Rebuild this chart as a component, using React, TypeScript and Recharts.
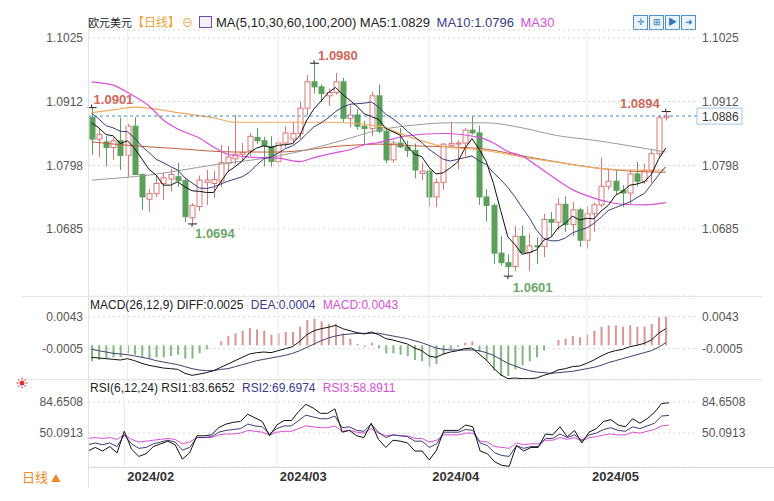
import React from 'react';
import {
  ComposedChart, Bar, Line, XAxis, YAxis, CartesianGrid, ReferenceLine, ReferenceDot, Cell
} from 'recharts';

// trading days shown on the chart
const dates = [
  '2024-01-25', '2024-01-26', '2024-01-29', '2024-01-30', '2024-01-31',
  '2024-02-01', '2024-02-02', '2024-02-05', '2024-02-06', '2024-02-07', '2024-02-08', '2024-02-09',
  '2024-02-12', '2024-02-13', '2024-02-14', '2024-02-15', '2024-02-16', '2024-02-19', '2024-02-20',
  '2024-02-21', '2024-02-22', '2024-02-23', '2024-02-26', '2024-02-27', '2024-02-28', '2024-02-29',
  '2024-03-01', '2024-03-04', '2024-03-05', '2024-03-06', '2024-03-07', '2024-03-08', '2024-03-11',
  '2024-03-12', '2024-03-13', '2024-03-14', '2024-03-15', '2024-03-18', '2024-03-19', '2024-03-20',
  '2024-03-21', '2024-03-22', '2024-03-25', '2024-03-26', '2024-03-27', '2024-03-28', '2024-03-29',
  '2024-04-01', '2024-04-02', '2024-04-03', '2024-04-04', '2024-04-05', '2024-04-08', '2024-04-09',
  '2024-04-10', '2024-04-11', '2024-04-12', '2024-04-15', '2024-04-16', '2024-04-17', '2024-04-18',
  '2024-04-19', '2024-04-22', '2024-04-23', '2024-04-24', '2024-04-25', '2024-04-26', '2024-04-29',
  '2024-04-30', '2024-05-01', '2024-05-02', '2024-05-03', '2024-05-06', '2024-05-07', '2024-05-08',
  '2024-05-09', '2024-05-10', '2024-05-13', '2024-05-14', '2024-05-15', '2024-05-16',
];

const opens = [
  1.0884, 1.0845, 1.0840, 1.0830, 1.0842, 1.0816, 1.0868, 1.0782, 1.0738, 1.0748,
  1.0766, 1.0774, 1.0778, 1.0771, 1.0705, 1.0725, 1.0768, 1.0766, 1.0770, 1.0802,
  1.0810, 1.0818, 1.0824, 1.0848, 1.0842, 1.0832, 1.0805, 1.0838, 1.0845, 1.0855,
  1.0900, 1.0947, 1.0938, 1.0922, 1.0928, 1.0947, 1.0882, 1.0888, 1.0868, 1.0864,
  1.0922, 1.0859, 1.0808, 1.0838, 1.0831, 1.0825, 1.0784, 1.0788, 1.0742, 1.0768,
  1.0834, 1.0836, 1.0838, 1.0861, 1.0856, 1.0742, 1.0727, 1.0642, 1.0625, 1.0618,
  1.0672, 1.0643, 1.0655, 1.0654, 1.0702, 1.0697, 1.0729, 1.0693, 1.0719, 1.0665,
  1.0712, 1.0728, 1.0761, 1.0770, 1.0754, 1.0749, 1.0783, 1.0770, 1.0789, 1.0819,
  1.0883,
];
const highs = [
  1.0901, 1.0865, 1.0850, 1.0848, 1.0883, 1.0872, 1.0884, 1.0784, 1.0756, 1.0781,
  1.0785, 1.0792, 1.0803, 1.0777, 1.0731, 1.0780, 1.0790, 1.0788, 1.0835, 1.0833,
  1.0888, 1.0838, 1.0856, 1.0865, 1.0849, 1.0850, 1.0844, 1.0868, 1.0876, 1.0912,
  1.0959, 1.0980, 1.0942, 1.0935, 1.0963, 1.0954, 1.0905, 1.0898, 1.0877, 1.0929,
  1.0942, 1.0866, 1.0843, 1.0865, 1.0842, 1.0837, 1.0803, 1.0793, 1.0775, 1.0838,
  1.0876, 1.0843, 1.0865, 1.0885, 1.0869, 1.0756, 1.0731, 1.0672, 1.0640, 1.0690,
  1.0691, 1.0677, 1.0670, 1.0712, 1.0715, 1.0740, 1.0743, 1.0733, 1.0723, 1.0725,
  1.0732, 1.0812, 1.0790, 1.0789, 1.0763, 1.0791, 1.0804, 1.0801, 1.0826, 1.0887,
  1.0894,
];
const lows = [
  1.0817, 1.0813, 1.0796, 1.0808, 1.0790, 1.0778, 1.0781, 1.0719, 1.0716, 1.0742,
  1.0737, 1.0752, 1.0760, 1.0697, 1.0694, 1.0717, 1.0728, 1.0740, 1.0760, 1.0788,
  1.0800, 1.0805, 1.0815, 1.0836, 1.0796, 1.0796, 1.0795, 1.0830, 1.0836, 1.0845,
  1.0887, 1.0926, 1.0911, 1.0904, 1.0924, 1.0875, 1.0866, 1.0862, 1.0836, 1.0850,
  1.0855, 1.0802, 1.0803, 1.0829, 1.0813, 1.0775, 1.0772, 1.0725, 1.0724, 1.0755,
  1.0830, 1.0791, 1.0815, 1.0853, 1.0728, 1.0698, 1.0623, 1.0620, 1.0601, 1.0610,
  1.0642, 1.0610, 1.0623, 1.0635, 1.0673, 1.0684, 1.0680, 1.0672, 1.0653, 1.0650,
  1.0680, 1.0724, 1.0755, 1.0747, 1.0724, 1.0729, 1.0761, 1.0765, 1.0767, 1.0811,
  1.0878,
];
const closes = [
  1.0845, 1.0853, 1.0830, 1.0842, 1.0816, 1.0868, 1.0782, 1.0742, 1.0748, 1.0766,
  1.0776, 1.0782, 1.0771, 1.0707, 1.0727, 1.0772, 1.0772, 1.0773, 1.0803, 1.0813,
  1.0818, 1.0821, 1.0850, 1.0842, 1.0833, 1.0805, 1.0838, 1.0856, 1.0855, 1.0900,
  1.0947, 1.0938, 1.0926, 1.0928, 1.0947, 1.0882, 1.0888, 1.0868, 1.0864, 1.0922,
  1.0859, 1.0808, 1.0838, 1.0831, 1.0825, 1.0790, 1.0788, 1.0742, 1.0768, 1.0836,
  1.0837, 1.0838, 1.0861, 1.0856, 1.0742, 1.0727, 1.0642, 1.0625, 1.0618, 1.0672,
  1.0643, 1.0655, 1.0654, 1.0702, 1.0697, 1.0729, 1.0693, 1.0719, 1.0665, 1.0712,
  1.0728, 1.0761, 1.0770, 1.0754, 1.0749, 1.0783, 1.0770, 1.0789, 1.0819, 1.0883,
  1.0886,
];

const ma5 = [
  1.0874, 1.0865, 1.0853, 1.0851, 1.0837, 1.0842, 1.0828, 1.0810, 1.0791, 1.0781,
  1.0763, 1.0763, 1.0769, 1.0760, 1.0753, 1.0752, 1.0750, 1.0750, 1.0769, 1.0787,
  1.0796, 1.0806, 1.0821, 1.0829, 1.0833, 1.0830, 1.0834, 1.0835, 1.0837, 1.0851,
  1.0879, 1.0899, 1.0913, 1.0928, 1.0937, 1.0924, 1.0914, 1.0903, 1.0890, 1.0885,
  1.0880, 1.0864, 1.0858, 1.0852, 1.0832, 1.0818, 1.0814, 1.0795, 1.0783, 1.0785,
  1.0794, 1.0804, 1.0828, 1.0846, 1.0827, 1.0805, 1.0766, 1.0718, 1.0671, 1.0657,
  1.0640, 1.0643, 1.0648, 1.0665, 1.0670, 1.0687, 1.0695, 1.0708, 1.0701, 1.0704,
  1.0703, 1.0717, 1.0727, 1.0745, 1.0752, 1.0763, 1.0765, 1.0769, 1.0782, 1.0809,
  1.0829,
];
const ma10 = [
  1.0891, 1.0881, 1.0869, 1.0865, 1.0859, 1.0858, 1.0847, 1.0832, 1.0821, 1.0809,
  1.0803, 1.0796, 1.0790, 1.0776, 1.0767, 1.0758, 1.0757, 1.0760, 1.0765, 1.0770,
  1.0774, 1.0778, 1.0786, 1.0799, 1.0810, 1.0813, 1.0820, 1.0828, 1.0833, 1.0842,
  1.0855, 1.0867, 1.0874, 1.0883, 1.0894, 1.0902, 1.0907, 1.0908, 1.0909, 1.0911,
  1.0902, 1.0889, 1.0881, 1.0871, 1.0859, 1.0849, 1.0839, 1.0827, 1.0818, 1.0809,
  1.0806, 1.0809, 1.0812, 1.0815, 1.0806, 1.0800, 1.0785, 1.0773, 1.0759, 1.0742,
  1.0723, 1.0705, 1.0683, 1.0668, 1.0664, 1.0664, 1.0669, 1.0678, 1.0683, 1.0687,
  1.0695, 1.0706, 1.0718, 1.0723, 1.0728, 1.0733, 1.0741, 1.0748, 1.0764, 1.0781,
  1.0796,
];
// slow averages read at some candles: [candle index, value]
const ma30Pts = [
  [0, 1.0947], [3, 1.0941], [5, 1.0928], [8, 1.0904], [10, 1.0879], [12, 1.0863], [15, 1.0847],
  [17, 1.0831], [19, 1.0818], [22, 1.0813], [26, 1.0811], [29, 1.0805], [31, 1.0812], [34, 1.0821],
  [36, 1.0826], [38, 1.0835], [40, 1.0839], [44, 1.0851], [49, 1.0855], [54, 1.0848], [56, 1.0838],
  [58, 1.0823], [60, 1.0815], [62, 1.0798], [64, 1.0780], [67, 1.0755], [70, 1.0740], [72, 1.0733],
  [74, 1.0729], [77, 1.0728], [80, 1.0732],
];
const ma60Pts = [
  [0, 1.0892], [3, 1.0897], [6, 1.0902], [8, 1.0900], [12, 1.0892], [17, 1.0883], [20, 1.0875],
  [26, 1.0875], [33, 1.0875], [40, 1.0868], [44, 1.0850], [49, 1.0832], [54, 1.0826], [58, 1.0818],
  [61, 1.0811], [65, 1.0804], [70, 1.0794], [74, 1.0790], [80, 1.0790],
];
const ma100Pts = [
  [0, 1.0772], [8, 1.0781], [17, 1.0799], [26, 1.0815], [30, 1.0826], [35, 1.0843], [40, 1.0861],
  [45, 1.0870], [50, 1.0874], [55, 1.0874], [60, 1.0865], [65, 1.0851], [70, 1.0843], [75, 1.0833],
  [80, 1.0822],
];
const ma200Pts = [
  [0, 1.0840], [4, 1.0835], [12, 1.0828], [20, 1.0822], [26, 1.0822], [35, 1.0833], [40, 1.0836],
  [45, 1.0833], [50, 1.0831], [55, 1.0827], [60, 1.0815], [65, 1.0804], [70, 1.0794], [75, 1.0788],
  [80, 1.0786],
];

const diff = [
  -0.0018, -0.0019, -0.0020, -0.0021, -0.0022, -0.0020, -0.0023, -0.0027, -0.0030, -0.0032,
  -0.0034, -0.0035, -0.0036, -0.0042, -0.0045, -0.0043, -0.0041, -0.0038, -0.0033, -0.0028,
  -0.0023, -0.0018, -0.0013, -0.0011, -0.0010, -0.0011, -0.0008, -0.0005, -0.0002, 0.0006,
  0.0016, 0.0022, 0.0025, 0.0027, 0.0030, 0.0025, 0.0022, 0.0019, 0.0017, 0.0020,
  0.0016, 0.0010, 0.0008, 0.0005, 0.0002, -0.0004, -0.0008, -0.0016, -0.0018, -0.0013,
  -0.0010, -0.0008, -0.0005, -0.0004, -0.0013, -0.0022, -0.0034, -0.0044, -0.0050, -0.0049,
  -0.0050, -0.0050, -0.0049, -0.0045, -0.0042, -0.0037, -0.0035, -0.0032, -0.0031, -0.0027,
  -0.0022, -0.0016, -0.0011, -0.0008, -0.0006, -0.0002, 0.0000, 0.0003, 0.0008, 0.0018,
  0.0025,
];
const dea = [
  -0.0006, -0.0008, -0.0010, -0.0012, -0.0013, -0.0014, -0.0016, -0.0018, -0.0020, -0.0023,
  -0.0025, -0.0027, -0.0029, -0.0032, -0.0035, -0.0037, -0.0038, -0.0038, -0.0036, -0.0035,
  -0.0032, -0.0029, -0.0026, -0.0023, -0.0021, -0.0019, -0.0017, -0.0015, -0.0012, -0.0008,
  -0.0003, 0.0002, 0.0007, 0.0011, 0.0014, 0.0016, 0.0017, 0.0018, 0.0018, 0.0018,
  0.0018, 0.0016, 0.0014, 0.0012, 0.0010, 0.0007, 0.0004, 0.0000, -0.0004, -0.0006,
  -0.0007, -0.0007, -0.0007, -0.0007, -0.0008, -0.0011, -0.0015, -0.0021, -0.0027, -0.0031,
  -0.0035, -0.0038, -0.0040, -0.0041, -0.0042, -0.0041, -0.0040, -0.0039, -0.0037, -0.0035,
  -0.0033, -0.0030, -0.0026, -0.0023, -0.0020, -0.0017, -0.0014, -0.0011, -0.0008, -0.0003,
  0.0004,
];
const macdHist = [
  -0.0024, -0.0022, -0.0020, -0.0018, -0.0018, -0.0012, -0.0014, -0.0018, -0.0020, -0.0018,
  -0.0018, -0.0016, -0.0014, -0.0020, -0.0020, -0.0012, -0.0006, 0.0000, 0.0006, 0.0014,
  0.0018, 0.0022, 0.0026, 0.0024, 0.0022, 0.0016, 0.0018, 0.0020, 0.0020, 0.0028,
  0.0038, 0.0040, 0.0036, 0.0032, 0.0032, 0.0018, 0.0010, 0.0002, -0.0002, 0.0004,
  -0.0004, -0.0012, -0.0012, -0.0014, -0.0016, -0.0022, -0.0024, -0.0032, -0.0028, -0.0014,
  -0.0006, -0.0002, 0.0004, 0.0006, -0.0010, -0.0022, -0.0038, -0.0046, -0.0046, -0.0036,
  -0.0030, -0.0024, -0.0018, -0.0008, 0.0000, 0.0008, 0.0010, 0.0014, 0.0012, 0.0016,
  0.0022, 0.0028, 0.0030, 0.0030, 0.0028, 0.0030, 0.0028, 0.0028, 0.0032, 0.0042,
  0.0043,
];

const rsi1 = [
  30, 34, 30, 35, 28, 52, 32, 24, 27, 35, 38, 41, 37, 21, 28, 47, 47, 48, 56, 60,
  62, 63, 71, 67, 63, 47, 59, 64, 64, 74, 82, 78, 72, 72, 77, 51, 53, 47, 45, 61,
  43, 34, 42, 41, 39, 30, 30, 20, 31, 53, 53, 53, 59, 57, 30, 27, 18, 14, 13, 36,
  30, 34, 34, 49, 48, 57, 46, 53, 39, 51, 55, 63, 65, 59, 57, 66, 61, 66, 73, 83,
  83.6652,
];
const rsi2 = [
  37, 39, 37, 39, 35, 48, 38, 33, 34, 38, 40, 42, 40, 31, 34, 45, 45, 46, 51, 53,
  54, 55, 60, 58, 57, 49, 55, 58, 58, 64, 70, 68, 66, 66, 69, 56, 57, 53, 52, 60,
  51, 45, 48, 47, 46, 41, 41, 34, 38, 51, 51, 51, 54, 53, 39, 36, 28, 25, 24, 36,
  33, 35, 35, 44, 44, 49, 45, 48, 42, 48, 50, 54, 56, 53, 52, 57, 55, 58, 61, 69,
  69.6974,
];
const rsi3 = [
  44, 45, 44, 45, 43, 48, 43, 40, 41, 42, 43, 44, 43, 38, 40, 45, 45, 45, 48, 49,
  49, 50, 53, 52, 51, 48, 51, 52, 52, 55, 58, 57, 56, 56, 58, 52, 53, 51, 50, 55,
  50, 47, 48, 47, 47, 44, 44, 40, 42, 48, 48, 48, 50, 50, 41, 40, 35, 34, 33, 39,
  37, 38, 38, 42, 42, 45, 43, 45, 41, 45, 46, 48, 49, 48, 48, 51, 50, 52, 54, 58,
  58.8911,
];

const priceTicks = [1.1025, 1.0912, 1.0798, 1.0685];
const macdTicks = [0.0043, -0.0005];
const rsiTicks = [84.6508, 50.0913];
const monthStarts = ['2024-02-01', '2024-03-01', '2024-04-01', '2024-05-01'];
const lastPrice = 1.0886;
// marked highs / lows
const extremeDates = ['2024-01-25', '2024-03-08', '2024-02-14', '2024-04-16', '2024-05-16'];
const extremeValues = [1.0901, 1.0980, 1.0694, 1.0601, 1.0894];
const extremeIsHigh = [true, true, false, false, true];

const W = 774;
const LEFT_W = 88;
const RIGHT_W = 76;
const FONT = "'Liberation Sans', Arial, 'Noto Sans CJK SC', sans-serif";
const CJK = "'Noto Sans CJK SC', sans-serif";
const UP = '#dd7676';
const DOWN = '#5b9f5b';

const sparse = (pts: number[][], n: number) => {
  const a: (number | null)[] = new Array(n).fill(null);
  pts.forEach(([i, v]) => { a[i] = v; });
  return a;
};

const n = dates.length;
const ma30 = sparse(ma30Pts, n);
const ma60 = sparse(ma60Pts, n);
const ma100 = sparse(ma100Pts, n);
const ma200 = sparse(ma200Pts, n);

const rows: any[] = dates.map((d, i) => ({
  d, o: opens[i], h: highs[i], l: lows[i], c: closes[i],
  ma5: ma5[i], ma10: ma10[i], ma30: ma30[i], ma60: ma60[i], ma100: ma100[i], ma200: ma200[i],
  diff: diff[i], dea: dea[i], hist: macdHist[i],
  rsi1: rsi1[i], rsi2: rsi2[i], rsi3: rsi3[i],
}));
// empty slots on the right of the last candle
for (let k = 1; k <= 4; k++) rows.push({ d: `pad${k}` });

const f4 = (v: number) => v.toFixed(4);
const tickStyle = { fill: '#555', fontSize: 12, fontFamily: FONT };

function Candle(props: any) {
  const { x, y, width, height, payload } = props;
  if (!payload || payload.o == null) return null;
  const { o, h, l, c } = payload;
  const span = h - l || 1e-9;
  const toY = (v: number) => y + ((h - v) / span) * height;
  const up = c >= o;
  const color = up ? UP : DOWN;
  const cx = Math.round(x + width / 2) + 0.5;
  const top = toY(Math.max(o, c));
  const bot = toY(Math.min(o, c));
  return (
    <g>
      <line x1={cx} x2={cx} y1={y} y2={y + height} stroke={color} strokeWidth={1} />
      <rect x={cx - 2.5} y={top} width={5} height={Math.max(1, bot - top)}
        fill={up ? '#fff' : color} stroke={color} strokeWidth={1} />
    </g>
  );
}

function ExtremeMark({ cx, cy, value, high, idx }: any) {
  const color = high ? '#d0675a' : '#6aa86a';
  // label placement per marker
  const place = [
    { dx: 2, dy: -4, anchor: 'start' },
    { dx: 4, dy: -3, anchor: 'start' },
    { dx: 3, dy: 14, anchor: 'start' },
    { dx: 5, dy: 16, anchor: 'start' },
    { dx: -6, dy: -4, anchor: 'end' },
  ][idx];
  return (
    <g>
      <line x1={cx - 4} x2={cx + 5} y1={cy} y2={cy} stroke="#222" />
      <line x1={cx} x2={cx} y1={high ? cy - 3 : cy} y2={high ? cy : cy + 3} stroke="#222" />
      <text x={cx + place.dx} y={cy + place.dy} textAnchor={place.anchor} fill={color}
        fontSize={13} fontWeight="bold" fontFamily={FONT}>{value.toFixed(4)}</text>
    </g>
  );
}

function PriceTag(props: any) {
  const vb = props.viewBox || {};
  const x = vb.x + vb.width - 1;
  const y = vb.y;
  return (
    <g>
      <rect x={x} y={y - 8} width={45} height={16} fill="#fff" stroke="#9cc7e6" />
      <text x={x + 5} y={y + 4.5} fontSize={12} fill="#333" fontFamily={FONT}>{lastPrice.toFixed(4)}</text>
    </g>
  );
}

function DateTick(props: any) {
  const { x, y, payload } = props;
  const label = String(payload.value).slice(0, 7).replace('-', '/');
  return (
    <text x={x + 3} y={y + 14} fontSize={13} fontWeight={600} fill="#333" fontFamily={FONT}>{label}</text>
  );
}

function monthLines(yAxisId: string) {
  return monthStarts.map((m) => (
    <ReferenceLine key={`${yAxisId}-${m}`} yAxisId={yAxisId} x={m} stroke="#ececec" />
  ));
}

const hLine = (top: number, left: number, width: number, color = '#e4e4e4') => (
  <div style={{ position: 'absolute', top, left, width, height: 1, background: color }} />
);

export default function App() {
  const priceDomain = [1.05657, 1.10392];
  const macdDomain = [-0.0052, 0.0071];
  const rsiDomain = [12.19, 109.18];

  const iconBox = (ch: string, left: number) => (
    <div key={left} style={{
      position: 'absolute', left, top: 15, width: 13, height: 13, border: '1px solid #4d8fcf',
      background: '#e9f3fc', color: '#2f73b8', fontSize: 9, lineHeight: '13px', textAlign: 'center',
    }}>{ch}</div>
  );

  return (
    <div style={{ position: 'absolute', left: 0, top: 0, width: W, height: 501, background: '#fff', fontFamily: FONT, overflow: 'hidden' }}>
      {/* header */}
      <div style={{ position: 'absolute', left: 88, top: 14, fontSize: 13, lineHeight: '16px', whiteSpace: 'nowrap', color: '#222' }}>
        <span style={{ fontFamily: CJK, fontSize: 11 }}>欧元美元</span>
        <span style={{ fontFamily: CJK, fontSize: 12, color: '#f0a035' }}>【日线】</span>
        <span style={{ color: '#f0a035', fontSize: 11, marginLeft: 2 }}>⊖</span>
        <span style={{ display: 'inline-block', width: 11, height: 10, border: '1px solid #6a4fa8', marginLeft: 6, marginRight: 4, verticalAlign: -1, background: '#f4effa' }} />
        <span>MA(5,10,30,60,100,200) </span>
        <span>MA5:1.0829 </span>
        <span style={{ color: '#3b3b8c', marginLeft: 3 }}>MA10:1.0796 </span>
        <span style={{ color: '#d94fd9', marginLeft: 3 }}>MA30</span>
      </div>
      {['✛', '⊞', '▶', '➜'].map((ch, k) => iconBox(ch, 633 + k * 16))}

      {/* price panel */}
      <div style={{ position: 'absolute', left: 0, top: 0 }}>
        <ComposedChart width={W} height={298} data={rows} margin={{ top: 30, right: 0, bottom: 2, left: 0 }}>
          <CartesianGrid yAxisId="p" vertical={false} stroke="#d6d6d6" strokeDasharray="2 3" />
          <XAxis dataKey="d" hide />
          <YAxis yAxisId="p" domain={priceDomain} allowDataOverflow ticks={priceTicks} tickFormatter={f4}
            width={LEFT_W} axisLine={false} tickLine={false} tickSize={3} tickMargin={2} tick={tickStyle} interval={0} />
          <YAxis yAxisId="pr" orientation="right" domain={priceDomain} allowDataOverflow ticks={priceTicks} tickFormatter={f4}
            width={RIGHT_W} axisLine={false} tickLine={false} tickSize={2} tickMargin={2} tick={tickStyle} interval={0} />
          {monthLines('p')}
          <Line yAxisId="p" dataKey="ma200" stroke="#bf5f3c" strokeWidth={1} dot={false} connectNulls type="monotone" isAnimationActive={false} />
          <Line yAxisId="p" dataKey="ma100" stroke="#9a9a9a" strokeWidth={1} dot={false} connectNulls type="monotone" isAnimationActive={false} />
          <Line yAxisId="p" dataKey="ma60" stroke="#f2aa62" strokeWidth={1.2} dot={false} connectNulls type="monotone" isAnimationActive={false} />
          <Line yAxisId="p" dataKey="ma30" stroke="#d94fd9" strokeWidth={1.2} dot={false} connectNulls type="monotone" isAnimationActive={false} />
          <Bar yAxisId="p" dataKey={(r: any) => (r.o == null ? null : [r.l, r.h])} shape={Candle} isAnimationActive={false} />
          <Line yAxisId="p" dataKey="ma10" stroke="#3b3b7c" strokeWidth={1} dot={false} isAnimationActive={false} />
          <Line yAxisId="p" dataKey="ma5" stroke="#111" strokeWidth={1} dot={false} isAnimationActive={false} />
          <ReferenceLine yAxisId="p" y={lastPrice} stroke="#3f8dc2" strokeDasharray="3 3" label={(p: any) => <PriceTag {...p} />} />
          {extremeDates.map((d, k) => (
            <ReferenceDot key={d} yAxisId="p" x={d} y={extremeValues[k]} r={0} ifOverflow="visible"
              shape={(p: any) => <ExtremeMark cx={p.cx} cy={p.cy} value={extremeValues[k]} high={extremeIsHigh[k]} idx={k} />} />
          ))}
        </ComposedChart>
      </div>

      {hLine(296, 22, 740)}

      {/* MACD panel */}
      <div style={{ position: 'absolute', left: 0, top: 298 }}>
        <ComposedChart width={W} height={82} data={rows} margin={{ top: 0, right: 0, bottom: 0, left: 0 }}>
          <CartesianGrid yAxisId="m" vertical={false} stroke="#d6d6d6" strokeDasharray="2 3" />
          <XAxis dataKey="d" hide />
          <YAxis yAxisId="m" domain={macdDomain} allowDataOverflow ticks={macdTicks} tickFormatter={f4}
            width={LEFT_W} axisLine={false} tickLine={false} tickSize={3} tickMargin={2} tick={tickStyle} interval={0} />
          <YAxis yAxisId="mr" orientation="right" domain={macdDomain} allowDataOverflow ticks={macdTicks} tickFormatter={f4}
            width={RIGHT_W} axisLine={false} tickLine={false} tickSize={2} tickMargin={2} tick={tickStyle} interval={0} />
          {monthLines('m')}
          <Bar yAxisId="m" dataKey="hist" barSize={2} isAnimationActive={false}>
            {rows.map((r, k) => (
              <Cell key={k} fill={(r.hist ?? 0) >= 0 ? '#dc9494' : '#82b882'} />
            ))}
          </Bar>
          <Line yAxisId="m" dataKey="dea" stroke="#404070" strokeWidth={1} dot={false} isAnimationActive={false} />
          <Line yAxisId="m" dataKey="diff" stroke="#111" strokeWidth={1} dot={false} isAnimationActive={false} />
        </ComposedChart>
      </div>
      <div style={{ position: 'absolute', left: 90, top: 297, fontSize: 12, lineHeight: '16px', whiteSpace: 'nowrap', color: '#222' }}>
        <span>MACD(26,12,9) DIFF:0.0025 </span>
        <span style={{ color: '#3b3b8c', marginLeft: 4 }}>DEA:0.0004 </span>
        <span style={{ color: '#d94fd9', marginLeft: 4 }}>MACD:0.0043</span>
      </div>

      {hLine(379, 22, 740)}

      {/* RSI panel */}
      <div style={{ position: 'absolute', left: 0, top: 380 }}>
        <ComposedChart width={W} height={108} data={rows} margin={{ top: 0, right: 0, bottom: 0, left: 0 }}>
          <CartesianGrid yAxisId="r" vertical={false} stroke="#d6d6d6" strokeDasharray="2 3" />
          <XAxis dataKey="d" ticks={monthStarts} interval={0} height={21} axisLine={false} tickLine={false}
            tickSize={0} tickMargin={0} tick={(p: any) => <DateTick {...p} />} />
          <YAxis yAxisId="r" domain={rsiDomain} allowDataOverflow ticks={rsiTicks} tickFormatter={f4}
            width={LEFT_W} axisLine={false} tickLine={false} tickSize={3} tickMargin={2} tick={tickStyle} interval={0} />
          <YAxis yAxisId="rr" orientation="right" domain={rsiDomain} allowDataOverflow ticks={rsiTicks} tickFormatter={f4}
            width={RIGHT_W} axisLine={false} tickLine={false} tickSize={2} tickMargin={2} tick={tickStyle} interval={0} />
          {monthLines('r')}
          <Line yAxisId="r" dataKey="rsi3" stroke="#d94fd9" strokeWidth={1} dot={false} isAnimationActive={false} />
          <Line yAxisId="r" dataKey="rsi2" stroke="#3b3b7c" strokeWidth={1} dot={false} isAnimationActive={false} />
          <Line yAxisId="r" dataKey="rsi1" stroke="#111" strokeWidth={1} dot={false} isAnimationActive={false} />
        </ComposedChart>
      </div>
      <div style={{ position: 'absolute', left: 90, top: 380, fontSize: 12, lineHeight: '16px', whiteSpace: 'nowrap', color: '#222' }}>
        <span>RSI(6,12,24) RSI1:83.6652 </span>
        <span style={{ color: '#3b3b8c', marginLeft: 4 }}>RSI2:69.6974 </span>
        <span style={{ color: '#d94fd9', marginLeft: 4 }}>RSI3:58.8911</span>
      </div>
      <svg style={{ position: 'absolute', left: 16, top: 377 }} width={12} height={12}>
        <circle cx={6} cy={6} r={2.5} fill="#e03030" />
        {[0, 45, 90, 135, 180, 225, 270, 315].map((a) => (
          <line key={a} x1={6 + 3.5 * Math.cos(a * Math.PI / 180)} y1={6 + 3.5 * Math.sin(a * Math.PI / 180)}
            x2={6 + 5.5 * Math.cos(a * Math.PI / 180)} y2={6 + 5.5 * Math.sin(a * Math.PI / 180)} stroke="#e03030" />
        ))}
      </svg>

      {/* frame */}
      {hLine(467, 88, 686, '#dcdcdc')}
      <div style={{ position: 'absolute', left: 88, top: 30, width: 1, height: 458, background: '#e2e2e2' }} />
      <div style={{ position: 'absolute', left: 22, top: 468, fontSize: 13, lineHeight: '18px', color: '#f08a24', fontFamily: CJK }}>
        日线 <span style={{ fontSize: 10 }}>▲</span>
      </div>
    </div>
  );
}
